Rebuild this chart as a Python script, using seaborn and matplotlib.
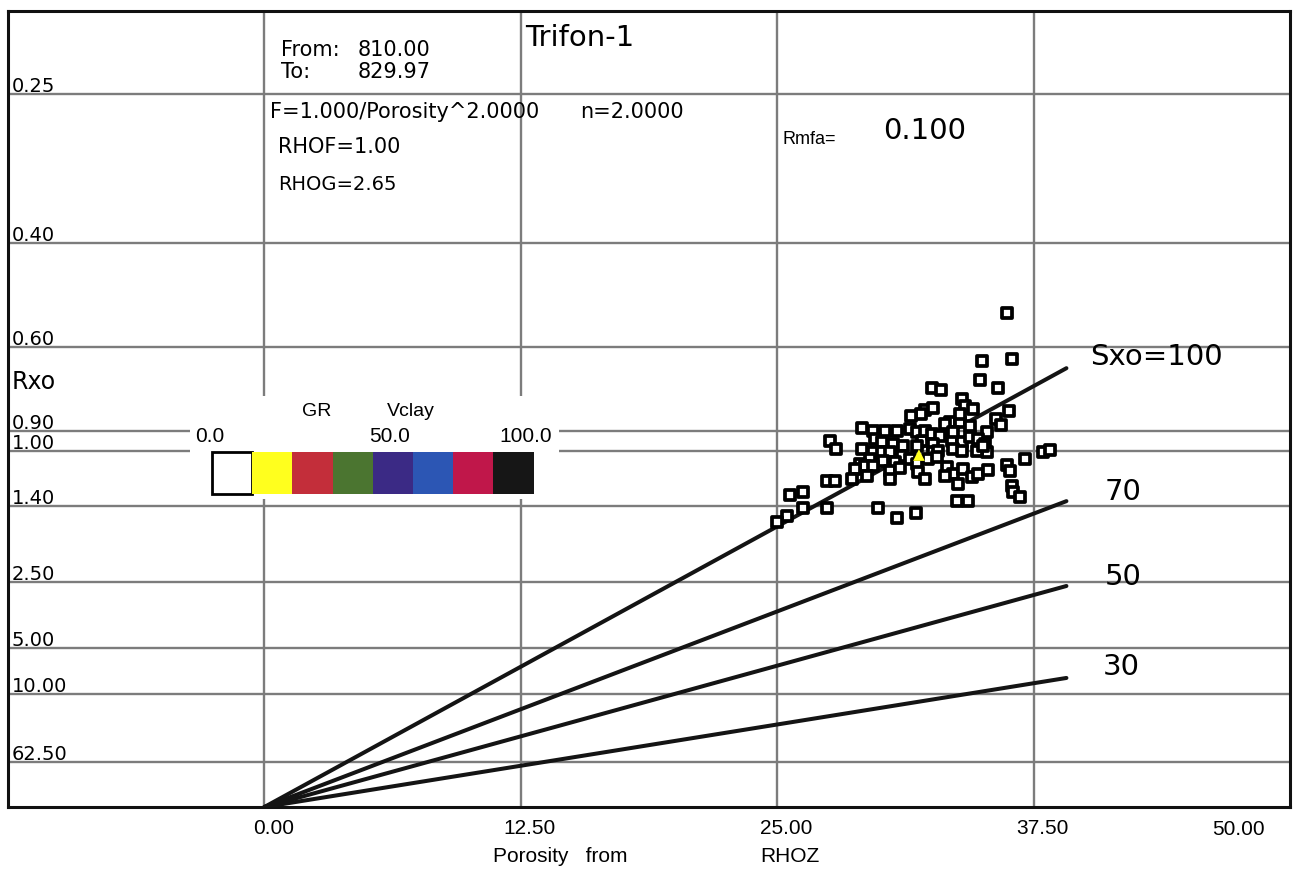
import numpy as np
import pandas as pd
import matplotlib
matplotlib.use("Agg")
import matplotlib.pyplot as plt
import matplotlib.transforms as mtransforms
from matplotlib.patches import Rectangle
import seaborn as sns

# ---- data ----
# porosity (%) and Rxo (ohm.m) for each sample
porosity = [36.19, 34.97, 36.43, 34.87, 35.75, 32.54, 32.98, 36.28, 34.00, 34.14,
            34.53, 32.20, 32.59, 32.00, 31.52, 29.13, 29.67, 30.25, 30.84, 31.47,
            31.81, 32.05, 29.77, 30.11, 30.64, 31.13, 29.13, 29.67, 30.11, 30.50,
            31.08, 31.47, 29.52, 29.04, 30.16, 30.74, 29.28, 29.67, 28.79, 30.50,
            30.98, 31.81, 31.86, 28.65, 30.50, 33.41, 33.90, 34.39, 35.65, 35.90,
            35.21, 32.20, 32.54, 32.93, 33.51, 34.00, 34.39, 34.78, 35.12, 35.21,
            32.59, 32.59, 32.83, 33.56, 34.00, 34.73, 32.34, 32.78, 33.27, 33.56,
            34.05, 34.48, 34.78, 35.26, 32.20, 37.94, 38.28, 37.06, 36.19, 36.33,
            36.43, 36.48, 36.82, 33.17, 33.80, 33.75, 34.29, 29.91, 30.84, 31.76,
            35.02, 27.58, 27.87, 27.43, 27.82, 25.63, 26.26, 27.43, 26.26, 25.49,
            25.00, 29.38, 33.90, 33.17, 33.56, 31.81]
rxo = [0.521, 0.639, 0.633, 0.697, 0.724, 0.724, 0.731, 0.810, 0.764, 0.790,
       0.802, 0.806, 0.798, 0.823, 0.831, 0.885, 0.899, 0.899, 0.899, 0.889,
       0.904, 0.949, 0.938, 0.954, 0.965, 0.975, 0.992, 1.008, 1.008, 1.008,
       1.032, 1.049, 1.049, 1.080, 1.062, 1.068, 1.093, 1.093, 1.112, 1.126,
       1.106, 1.080, 1.132, 1.181, 1.181, 0.857, 0.857, 0.876, 0.844, 0.871,
       0.904, 0.899, 0.913, 0.923, 0.949, 0.954, 0.928, 0.938, 0.965, 1.008,
       0.965, 1.008, 1.003, 0.992, 1.003, 1.003, 1.049, 1.037, 1.099, 1.146,
       1.112, 1.167, 1.146, 1.119, 1.181, 1.008, 0.997, 1.049, 1.087, 1.126,
       1.233, 1.281, 1.322, 1.160, 1.218, 1.357, 1.357, 1.422, 1.522, 1.470,
       0.975, 0.949, 0.992, 1.196, 1.196, 1.306, 1.281, 1.422, 1.422, 1.501,
       1.565, 1.160, 0.823, 0.866, 0.904, 0.975]
yellow_por = [31.91]
yellow_rxo = [1.026]

# Sxo lines: from origin to porosity 39.1, end value in 1/sqrt(Rxo)
sxo_values = [100, 70, 50, 30]
sxo_labels = ["Sxo=100", "70", "50", "30"]
line_end_por = 39.1
line_end_ci = [1.231, 0.858, 0.620, 0.362]

rxo_ticks = [0.25, 0.40, 0.60, 0.90, 1.00, 1.40, 2.50, 5.00, 10.00, 62.50]
rxo_tick_labels = ["0.25", "0.40", "0.60", "0.90", "1.00", "1.40", "2.50", "5.00", "10.00", "62.50"]
por_ticks = [0, 12.5, 25, 37.5]
por_tick_labels = ["0.00", "12.50", "25.00", "37.50"]

legend_colors = ["white", "#ffff1e", "#c32e3a", "#4b7530", "#3b2a85", "#2c56b4", "#c0174a", "#161616"]


def ci(r):
    # Hingle style axis: 1/sqrt(Rxo)
    return 1.0 / np.sqrt(np.asarray(r, dtype=float))


df = pd.DataFrame({"por": porosity, "ci": ci(rxo)})
lines = pd.DataFrame({
    "por": [0.0, line_end_por] * len(sxo_values),
    "ci": [v for e in line_end_ci for v in (0.0, e)],
    "sxo": [s for s in sxo_values for _ in range(2)],
})

sns.set_style("white")
plt.rcParams["font.family"] = ["Liberation Sans", "DejaVu Sans"]
plt.rcParams["text.color"] = "black"
plt.rcParams["xtick.color"] = "black"

W, H = 1297, 870
fig = plt.figure(figsize=(W / 100, H / 100), dpi=100)


def fx(px):
    return px / W


def fy(py):
    return 1 - py / H


ax = fig.add_axes([fx(8), fy(808), fx(1290) - fx(8), fy(12) - fy(808)])
ax.set_xlim(-12.5, 50)
ax.set_ylim(0, 2.233)

# grid
ax.set_axisbelow(True)
ax.set_xticks(por_ticks)
ax.set_yticks(ci(rxo_ticks))
ax.grid(True, color="#7c7c7c", linewidth=1.7)
ax.tick_params(axis="both", length=0)
ax.tick_params(axis="y", labelleft=False)
ax.set_xticklabels(por_tick_labels, fontsize=15)
ax.tick_params(axis="x", pad=8)
shift = mtransforms.ScaledTranslation(9 / 100, 0, fig.dpi_scale_trans)
for lab in ax.get_xticklabels():
    lab.set_transform(lab.get_transform() + shift)
for sp in ax.spines.values():
    sp.set_linewidth(2.2)
    sp.set_color("#111111")

# y labels sit inside the frame, just above each grid line
for r, lab in zip(rxo_ticks, rxo_tick_labels):
    ax.annotate(lab, xy=(0.003, ci(r)), xycoords=("axes fraction", "data"),
                xytext=(0, 3), textcoords="offset pixels", va="baseline", ha="left",
                fontsize=14, family="DejaVu Sans")

# white panel behind the GR / Vclay legend
ax.add_patch(Rectangle((-3.65, 0.864), 18.0, 0.289, facecolor="white",
                       edgecolor="none", zorder=1))

# Sxo lines
sns.lineplot(data=lines, x="por", y="ci", units="sxo", estimator=None,
             color="#141414", linewidth=2.9, ax=ax, zorder=3, legend=False)

# points
sns.scatterplot(data=df, x="por", y="ci", marker="s", s=52, color="white",
                edgecolor="black", linewidth=2.7, ax=ax, zorder=4, legend=False)
sns.scatterplot(x=yellow_por, y=ci(yellow_rxo), marker="^", s=70, color="#ffff1e",
                edgecolor="none", ax=ax, zorder=5, legend=False)
ax.set_xlabel("")
ax.set_ylabel("")

# header texts
fig.text(fx(525), fy(38), "Trifon-1", fontsize=21, va="center", family="DejaVu Sans")
fig.text(fx(281), fy(50), "From:", fontsize=15, va="center", family="DejaVu Sans")
fig.text(fx(358), fy(50), "810.00", fontsize=15, va="center", family="DejaVu Sans")
fig.text(fx(281), fy(72), "To:", fontsize=15, va="center", family="DejaVu Sans")
fig.text(fx(358), fy(72), "829.97", fontsize=15, va="center", family="DejaVu Sans")
fig.text(fx(270), fy(112), "F=1.000/Porosity^2.0000", fontsize=15, va="center", family="DejaVu Sans")
fig.text(fx(580), fy(112), "n=2.0000", fontsize=15, va="center", family="DejaVu Sans")
fig.text(fx(278), fy(147), "RHOF=1.00", fontsize=15, va="center", family="DejaVu Sans")
fig.text(fx(278), fy(185), "RHOG=2.65", fontsize=14, va="center", family="DejaVu Sans")
fig.text(fx(783), fy(139), "Rmfa=", fontsize=13, va="center")
fig.text(fx(883), fy(131), "0.100", fontsize=21, va="center", family="DejaVu Sans")
fig.text(fx(12), fy(382), "Rxo", fontsize=17, va="center", family="DejaVu Sans")

# Sxo labels
label_pos = [(1090, 357), (1105, 492), (1105, 577), (1103, 667)]
for txt, (px, py) in zip(sxo_labels, label_pos):
    fig.text(fx(px), fy(py), txt, fontsize=21, va="center", family="DejaVu Sans")

# x axis extras
fig.text(fx(1238), fy(830), "50.00", fontsize=15, ha="center", va="center")
fig.text(fx(493), fy(857), "Porosity   from", fontsize=15, va="center")
fig.text(fx(760), fy(857), "RHOZ", fontsize=15, va="center")

# GR / Vclay colour legend
fig.text(fx(317), fy(412), "GR", fontsize=14, ha="center", va="center")
fig.text(fx(411), fy(412), "Vclay", fontsize=14, ha="center", va="center")
fig.text(fx(210), fy(437), "0.0", fontsize=15, ha="center", va="center")
fig.text(fx(390), fy(437), "50.0", fontsize=15, ha="center", va="center")
fig.text(fx(526), fy(437), "100.0", fontsize=15, ha="center", va="center")
box_w = 40.2
for i, c in enumerate(legend_colors):
    x0 = 212 + i * box_w
    fig.add_artist(Rectangle((fx(x0), fy(495)), box_w / W, 42 / H,
                             transform=fig.transFigure, facecolor=c,
                             edgecolor="black" if c == "white" else "none",
                             linewidth=2.0 if c == "white" else 0))

fig.savefig("out.png", dpi=100)
